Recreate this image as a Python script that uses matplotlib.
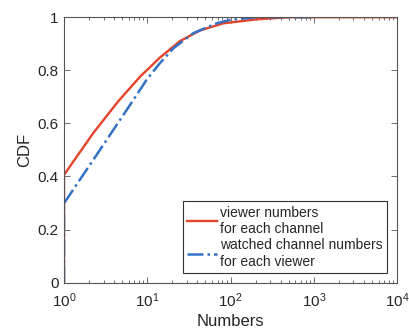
import matplotlib.pyplot as plt
from matplotlib.ticker import LogLocator, FixedLocator

# curves (x on log scale)
ch_x = [1, 1, 2.25, 4.5, 8.2, 14.2, 24.7, 43, 82, 206, 519, 10000]
ch_y = [0, 0.406, 0.564, 0.684, 0.776, 0.848, 0.91, 0.95, 0.977, 0.992, 1.0, 1.0]

vw_x = [1, 1, 2.7, 6.8, 9.8, 14.2, 20.6, 35.7, 68, 100, 206, 1000]
vw_y = [0, 0.299, 0.5, 0.688, 0.764, 0.827, 0.883, 0.94, 0.977, 0.99, 1.0, 1.0]

labels = ["viewer numbers\nfor each channel", "watched channel numbers\nfor each viewer"]

plt.rcParams['font.family'] = ['Liberation Sans', 'DejaVu Sans']
txt = '#262626'

fig = plt.figure(figsize=(4.09, 3.31), dpi=100)
ax = fig.add_axes([0.1565, 0.146, 0.8142, 0.802])

ax.plot(ch_x, ch_y, '-', color='#E5432A', lw=1.7, label=labels[0])
ax.plot(vw_x, vw_y, '-.', color='#3372C4', lw=1.8, label=labels[1])

ax.set_xscale('log')
ax.set_xlim(1, 1e4)
ax.set_ylim(0, 1)
ax.yaxis.set_major_locator(FixedLocator([0, 0.2, 0.4, 0.6, 0.8, 1]))
ax.set_yticklabels(['0', '0.2', '0.4', '0.6', '0.8', '1'])
ax.xaxis.set_major_locator(LogLocator(base=10, numticks=10))
ax.xaxis.set_minor_locator(LogLocator(base=10, subs=range(2, 10), numticks=100))

ax.tick_params(which='both', direction='in', top=True, right=True,
               colors='#555555', labelcolor=txt, labelsize=11, width=0.6)
ax.tick_params(which='major', length=4, pad=4)
ax.tick_params(axis='x', which='major', pad=6)
ax.tick_params(which='minor', length=2)
for s in ax.spines.values():
    s.set_color('#555555')
    s.set_linewidth(0.8)

ax.set_xlabel('Numbers', fontsize=12, color=txt, labelpad=3)
ax.set_ylabel('CDF', fontsize=12, color=txt, labelpad=4)

leg = ax.legend(loc='lower right', bbox_to_anchor=(0.97, 0.037), borderaxespad=0,
                fontsize=10, fancybox=False, handlelength=2.2, handletextpad=0.2,
                borderpad=0.3, labelspacing=0.2, framealpha=1)
leg.get_frame().set_edgecolor('#333333')
leg.get_frame().set_linewidth(0.8)
for t in leg.get_texts():
    t.set_color(txt)

plt.savefig('out.png', dpi=100)
